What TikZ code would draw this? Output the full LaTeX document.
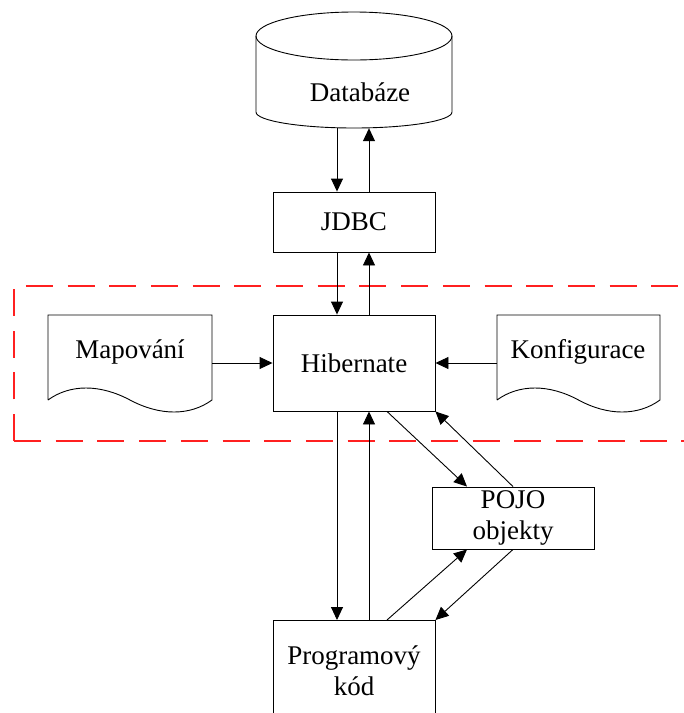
\documentclass[tikz,border=0pt]{standalone}
\usepackage{fontspec}
\setmainfont{Liberation Serif}
\usetikzlibrary{arrows.meta,calc}
\definecolor{dashred}{RGB}{255,32,32}
\begin{document}
\begin{tikzpicture}[x=1pt,y=-1pt,
  every node/.style={font=\fontsize{27}{31}\selectfont},
  box/.style={draw, line width=0.9pt, minimum width=162pt, align=center, inner sep=0pt},
  ghost/.style={inner sep=0pt},
  txt/.style={inner sep=0pt},
  arr/.style={-{Triangle[length=13pt,width=12pt]}, line width=0.9pt},
  outline/.style={draw, line width=0.9pt},
  frame/.style={draw=dashred, line width=2pt, dash pattern=on 27pt off 14.7pt}]
\path[use as bounding box, clip] (0,0) rectangle (684,713);

% database cylinder
\draw[outline] (256,36) -- (256,112)
  .. controls (256,120.8) and (299.9,128) .. (354,128)
  .. controls (408.1,128) and (452,120.8) .. (452,112) -- (452,36);
\draw[outline] (354,36) ellipse [x radius=98, y radius=24];
\node[ghost, minimum width=196pt, minimum height=116pt] (db) at (354,70) {};
\node[txt] (dbtxt) at (360,92) {Databáze};

% boxes
\node[box, minimum height=60pt] (jdbc) at (354,222) {JDBC};
\node[box, minimum height=96pt] (hib) at (354,363) {Hibernate};
\node[box, minimum height=62pt] (pojo) at (513,518) {POJO\\objekty};
\node[box, minimum height=100pt, anchor=north] (prog) at (354,620) {Programový\\kód};

% documents
\draw[outline] (48,400) -- (48,315) -- (212,315) -- (212,400)
  .. controls (190,416) and (160,416) .. (130,400)
  .. controls (100,384) and (70,384) .. (48,400);
\node[ghost, minimum width=164pt, minimum height=85pt] (map) at (130,357.5) {};
\node[txt] (maptxt) at (130,352) {Mapování};

\draw[outline] (497,400) -- (497,315) -- (660,315) -- (660,400)
  .. controls (638,416) and (608,416) .. (578.5,400)
  .. controls (549,384) and (519,384) .. (497,400);
\node[ghost, minimum width=163pt, minimum height=85pt] (konf) at (578.5,357.5) {};
\node[txt] (konftxt) at (578,352) {Konfigurace};

% dashed frame
\draw[frame] (14,441) -- (14,286) -- (700,286);
\draw[frame] (14,441) -- (700,441);

% connectors
\draw[arr] ($(db.south)+(-17,0)$) -- ($(jdbc.north)+(-17,0)$);
\draw[arr] ($(jdbc.north)+(15,0)$) -- ($(db.south)+(15,0)$);
\draw[arr] ($(jdbc.south)+(-17,0)$) -- ($(hib.north)+(-17,0)$);
\draw[arr] ($(hib.north)+(15,0)$) -- ($(jdbc.south)+(15,0)$);
\draw[arr] (map.east |- hib.west) -- (hib.west);
\draw[arr] (konf.west |- hib.east) -- (hib.east);
\draw[arr] ($(hib.south)+(-17,0)$) -- ($(prog.north)+(-17,0)$);
\draw[arr] ($(prog.north)+(15,0)$) -- ($(hib.south)+(15,0)$);
\draw[arr] ($(hib.south)+(33,0)$) -- ($(pojo.north)+(-46,0)$);
\draw[arr] (pojo.north) -- (hib.south east);
\draw[arr] ($(prog.north)+(33,0)$) -- ($(pojo.south)+(-46,0)$);
\draw[arr] (pojo.south) -- (prog.north east);
\end{tikzpicture}
\end{document}
